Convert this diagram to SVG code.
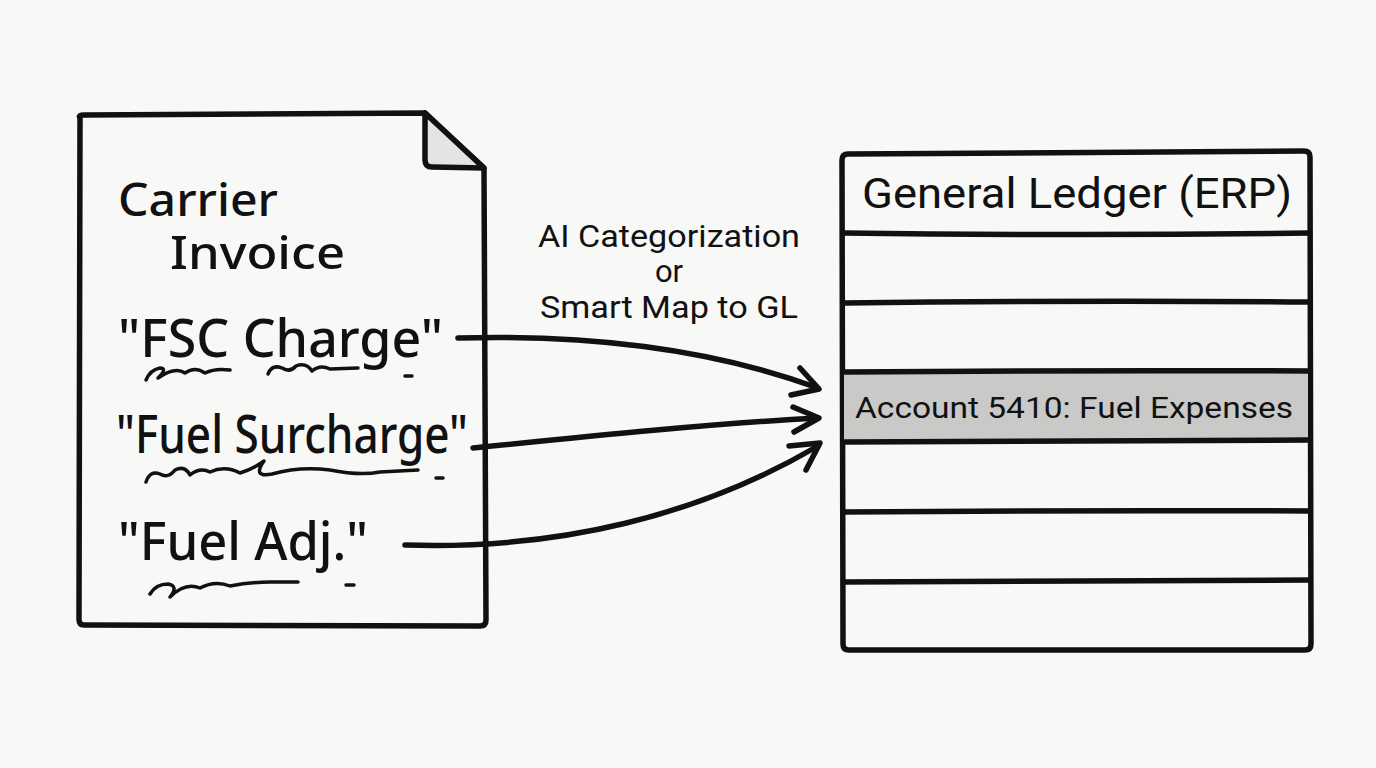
<svg xmlns="http://www.w3.org/2000/svg" width="1376" height="768" viewBox="0 0 1376 768">
<style>
.ink{fill:none;stroke:#111;stroke-width:5.5;stroke-linecap:round;stroke-linejoin:round}
.sq{fill:none;stroke:#111;stroke-width:3.5;stroke-linecap:round;stroke-linejoin:round}
.hand{font-family:"Noto Sans","DejaVu Sans",sans-serif;fill:#111;font-weight:500}
.sans{font-family:Roboto,"Liberation Sans",sans-serif;fill:#111}
</style>
<rect width="1376" height="768" fill="#f8f8f6"/>
<g id="invoice">
<path class="ink" d="M80,118 Q78,115 84,115 L425,113 L484,168 L486,620 Q486,626 480,626 L84,625 Q79,625 79,619 Z" fill="#fff"/>
<path d="M425,113 L425,160 Q425,167 432,167 L484,168 Z" fill="#e4e4e2" stroke="#111" stroke-width="5.5" stroke-linejoin="round"/>
<text class="hand" x="118" y="216" font-size="46" textLength="160" lengthAdjust="spacingAndGlyphs">Carrier</text>
<text class="hand" x="170" y="269" font-size="46" textLength="175" lengthAdjust="spacingAndGlyphs">Invoice</text>
<text class="hand" x="118" y="357" font-size="52" textLength="325" lengthAdjust="spacingAndGlyphs">"FSC Charge"</text>
<text class="hand" x="116" y="453" font-size="52" textLength="352" lengthAdjust="spacingAndGlyphs">"Fuel Surcharge"</text>
<text class="hand" x="118" y="560" font-size="52" textLength="250" lengthAdjust="spacingAndGlyphs">"Fuel Adj."</text>
<path class="sq" d="M146,380 Q150,370 160,368 Q168,368 158,378 Q175,366 185,373 Q195,366 205,373 Q215,368 230,370"/>
<path class="sq" d="M268,374 Q272,364 282,368 Q290,373 296,366 Q306,362 312,371 Q320,364 330,369 L358,368"/>
<path class="sq" d="M405,376 L412,376"/>
<path class="sq" d="M146,482 Q150,470 160,474 Q168,479 175,470 Q185,465 190,475 Q200,467 210,472 Q225,465 240,473 Q255,468 264,461 Q252,478 272,474 Q300,466 330,470 Q360,476 380,472 L418,470"/>
<path class="sq" d="M436,478 L443,478"/>
<path class="sq" d="M150,594 Q156,584 168,584 Q179,586 170,597 Q185,582 200,588 Q215,580 230,586 Q250,582 270,582 L298,582"/>
<path class="sq" d="M346,585 L354,585"/>
</g>
<g id="ledger">
<path class="ink" d="M848,154 L1304,151 Q1310,151 1310,157 L1311,644 Q1311,650 1305,650 L849,650 Q843,650 843,644 L842,160 Q842,154 848,154 Z" fill="#fff"/>
<rect x="844" y="373" width="464" height="69" fill="#c9c9c7"/>
<path class="ink" d="M844,233 Q1080,236 1309,233"/>
<path class="ink" d="M844,303 Q1080,300 1309,302"/>
<path class="ink" d="M844,372 Q1080,370 1309,371"/>
<path class="ink" d="M844,442 Q1080,441 1309,440"/>
<path class="ink" d="M844,512 Q1080,510 1309,511"/>
<path class="ink" d="M844,582 Q1080,580 1310,580"/>
<text class="sans" x="862" y="208" font-size="42" textLength="430" lengthAdjust="spacingAndGlyphs">General Ledger (ERP)</text>
<text class="sans" x="855" y="418" font-size="29" textLength="438" lengthAdjust="spacingAndGlyphs">Account 5410: Fuel Expenses</text>
</g>
<g id="connectors">
<path class="ink" d="M458,338 C600,334 720,352 818,388"/>
<path class="ink" d="M800,368 L819,389 L791,395"/>
<path class="ink" d="M473,448 C600,435 720,423 818,418"/>
<path class="ink" d="M793,407 L819,418 L794,432"/>
<path class="ink" d="M405,545 C560,550 700,515 818,446"/>
<path class="ink" d="M789,446 L820,443 L806,470"/>
<g class="sans" font-size="31" text-anchor="middle">
<text x="669" y="247" textLength="262" lengthAdjust="spacingAndGlyphs">AI Categorization</text>
<text x="669" y="282">or</text>
<text x="669" y="318" textLength="258" lengthAdjust="spacingAndGlyphs">Smart Map to GL</text>
</g>
</g>
</svg>
